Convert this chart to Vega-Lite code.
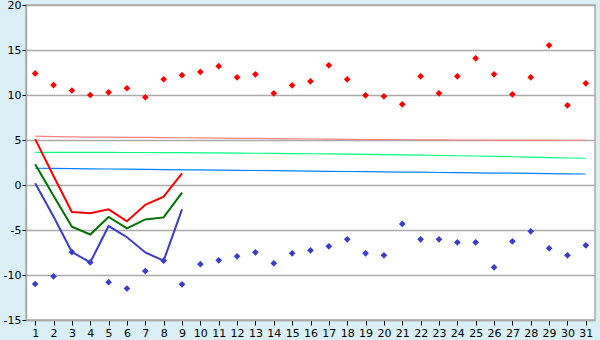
{
  "$schema": "https://vega.github.io/schema/vega-lite/v6.json",
  "width": 569,
  "height": 315,
  "autosize": {"type": "none"},
  "padding": {"left": 26, "top": 5, "right": 5, "bottom": 20},
  "background": "#daeff5",
  "config": {
    "view": {"fill": "white", "stroke": "#aaaaaa", "strokeWidth": 1.5},
    "axis": {"labelFont": "DejaVu Sans", "labelFontSize": 11, "labelColor": "black", "tickColor": "black", "domainColor": "#aaaaaa", "domainWidth": 1.5, "gridColor": "#aaaaaa", "gridWidth": 1.5, "gridOpacity": 1, "title": null}
  },
  "data": {
    "values": [
      {"day": 1, "rmax": 12.4, "rmin": -11.0, "nmax": 5.42, "nmean": 3.63, "nmin": 1.86, "tmax": 5.1, "tmean": 2.3, "tmin": 0.2},
      {"day": 2, "rmax": 11.1, "rmin": -10.15, "nmax": 5.37, "nmean": 3.63, "nmin": 1.84, "tmax": 1.0, "tmean": -1.2, "tmin": -3.5},
      {"day": 3, "rmax": 10.5, "rmin": -7.45, "nmax": 5.35, "nmean": 3.63, "nmin": 1.82, "tmax": -3.0, "tmean": -4.63, "tmin": -7.45},
      {"day": 4, "rmax": 10.0, "rmin": -8.6, "nmax": 5.33, "nmean": 3.62, "nmin": 1.8, "tmax": -3.15, "tmean": -5.5, "tmin": -8.6},
      {"day": 5, "rmax": 10.3, "rmin": -10.8, "nmax": 5.31, "nmean": 3.62, "nmin": 1.78, "tmax": -2.7, "tmean": -3.55, "tmin": -4.56},
      {"day": 6, "rmax": 10.75, "rmin": -11.5, "nmax": 5.3, "nmean": 3.61, "nmin": 1.76, "tmax": -4.04, "tmean": -4.81, "tmin": -5.8},
      {"day": 7, "rmax": 9.75, "rmin": -9.56, "nmax": 5.29, "nmean": 3.61, "nmin": 1.73, "tmax": -2.2, "tmean": -3.83, "tmin": -7.5},
      {"day": 8, "rmax": 11.75, "rmin": -8.41, "nmax": 5.27, "nmean": 3.6, "nmin": 1.71, "tmax": -1.3, "tmean": -3.6, "tmin": -8.41},
      {"day": 9, "rmax": 12.2, "rmin": -11.04, "nmax": 5.25, "nmean": 3.59, "nmin": 1.69, "tmax": 1.3, "tmean": -0.85, "tmin": -2.7},
      {"day": 10, "rmax": 12.56, "rmin": -8.8, "nmax": 5.23, "nmean": 3.58, "nmin": 1.67},
      {"day": 11, "rmax": 13.2, "rmin": -8.37, "nmax": 5.21, "nmean": 3.57, "nmin": 1.65},
      {"day": 12, "rmax": 11.96, "rmin": -7.93, "nmax": 5.19, "nmean": 3.55, "nmin": 1.63},
      {"day": 13, "rmax": 12.3, "rmin": -7.48, "nmax": 5.17, "nmean": 3.53, "nmin": 1.61},
      {"day": 14, "rmax": 10.19, "rmin": -8.7, "nmax": 5.15, "nmean": 3.51, "nmin": 1.59},
      {"day": 15, "rmax": 11.07, "rmin": -7.59, "nmax": 5.13, "nmean": 3.49, "nmin": 1.56},
      {"day": 16, "rmax": 11.52, "rmin": -7.26, "nmax": 5.11, "nmean": 3.47, "nmin": 1.54},
      {"day": 17, "rmax": 13.3, "rmin": -6.81, "nmax": 5.09, "nmean": 3.45, "nmin": 1.52},
      {"day": 18, "rmax": 11.74, "rmin": -6.04, "nmax": 5.07, "nmean": 3.43, "nmin": 1.5},
      {"day": 19, "rmax": 9.96, "rmin": -7.59, "nmax": 5.05, "nmean": 3.4, "nmin": 1.48},
      {"day": 20, "rmax": 9.85, "rmin": -7.81, "nmax": 5.04, "nmean": 3.37, "nmin": 1.46},
      {"day": 21, "rmax": 8.96, "rmin": -4.33, "nmax": 5.03, "nmean": 3.34, "nmin": 1.44},
      {"day": 22, "rmax": 12.07, "rmin": -6.04, "nmax": 5.02, "nmean": 3.31, "nmin": 1.42},
      {"day": 23, "rmax": 10.19, "rmin": -6.04, "nmax": 5.01, "nmean": 3.28, "nmin": 1.39},
      {"day": 24, "rmax": 12.07, "rmin": -6.37, "nmax": 5.0, "nmean": 3.25, "nmin": 1.37},
      {"day": 25, "rmax": 14.07, "rmin": -6.37, "nmax": 5.0, "nmean": 3.22, "nmin": 1.35},
      {"day": 26, "rmax": 12.3, "rmin": -9.15, "nmax": 4.99, "nmean": 3.18, "nmin": 1.33},
      {"day": 27, "rmax": 10.07, "rmin": -6.26, "nmax": 4.99, "nmean": 3.14, "nmin": 1.31},
      {"day": 28, "rmax": 11.96, "rmin": -5.15, "nmax": 4.98, "nmean": 3.1, "nmin": 1.29},
      {"day": 29, "rmax": 15.52, "rmin": -7.04, "nmax": 4.98, "nmean": 3.05, "nmin": 1.27},
      {"day": 30, "rmax": 8.85, "rmin": -7.81, "nmax": 4.97, "nmean": 3.0, "nmin": 1.24},
      {"day": 31, "rmax": 11.3, "rmin": -6.7, "nmax": 4.97, "nmean": 2.97, "nmin": 1.22}
    ]
  },
  "encoding": {
    "x": {
      "field": "day",
      "type": "ordinal",
      "scale": {"type": "point", "padding": 0.5},
      "axis": {"labelAngle": 0, "tickSize": 5, "labelPadding": 2, "grid": false}
    }
  },
  "layer": [
    {
      "mark": {"type": "line", "color": "#ff8080", "strokeWidth": 1.2},
      "encoding": {"y": {"field": "nmax", "type": "quantitative", "scale": {"domain": [-15, 20], "nice": false}, "axis": {"values": [-15, -10, -5, 0, 5, 10, 15, 20], "tickSize": 4, "labelPadding": 1, "labelExpr": "'' + datum.value"}}}
    },
    {
      "mark": {"type": "line", "color": "#00ff80", "strokeWidth": 1.2},
      "encoding": {"y": {"field": "nmean", "type": "quantitative"}}
    },
    {
      "mark": {"type": "line", "color": "#0080ff", "strokeWidth": 1.2},
      "encoding": {"y": {"field": "nmin", "type": "quantitative"}}
    },
    {
      "mark": {"type": "line", "color": "#ff0000", "strokeWidth": 2},
      "encoding": {"y": {"field": "tmax", "type": "quantitative"}}
    },
    {
      "mark": {"type": "line", "color": "#007000", "strokeWidth": 2},
      "encoding": {"y": {"field": "tmean", "type": "quantitative"}}
    },
    {
      "mark": {"type": "line", "color": "#3c3ccc", "strokeWidth": 2},
      "encoding": {"y": {"field": "tmin", "type": "quantitative"}}
    },
    {
      "mark": {"type": "point", "shape": "diamond", "filled": true, "opacity": 1, "color": "#ff0000", "size": 45},
      "encoding": {"y": {"field": "rmax", "type": "quantitative"}}
    },
    {
      "mark": {"type": "point", "shape": "diamond", "filled": true, "opacity": 1, "color": "#3c3ccc", "size": 45},
      "encoding": {"y": {"field": "rmin", "type": "quantitative"}}
    }
  ]
}
